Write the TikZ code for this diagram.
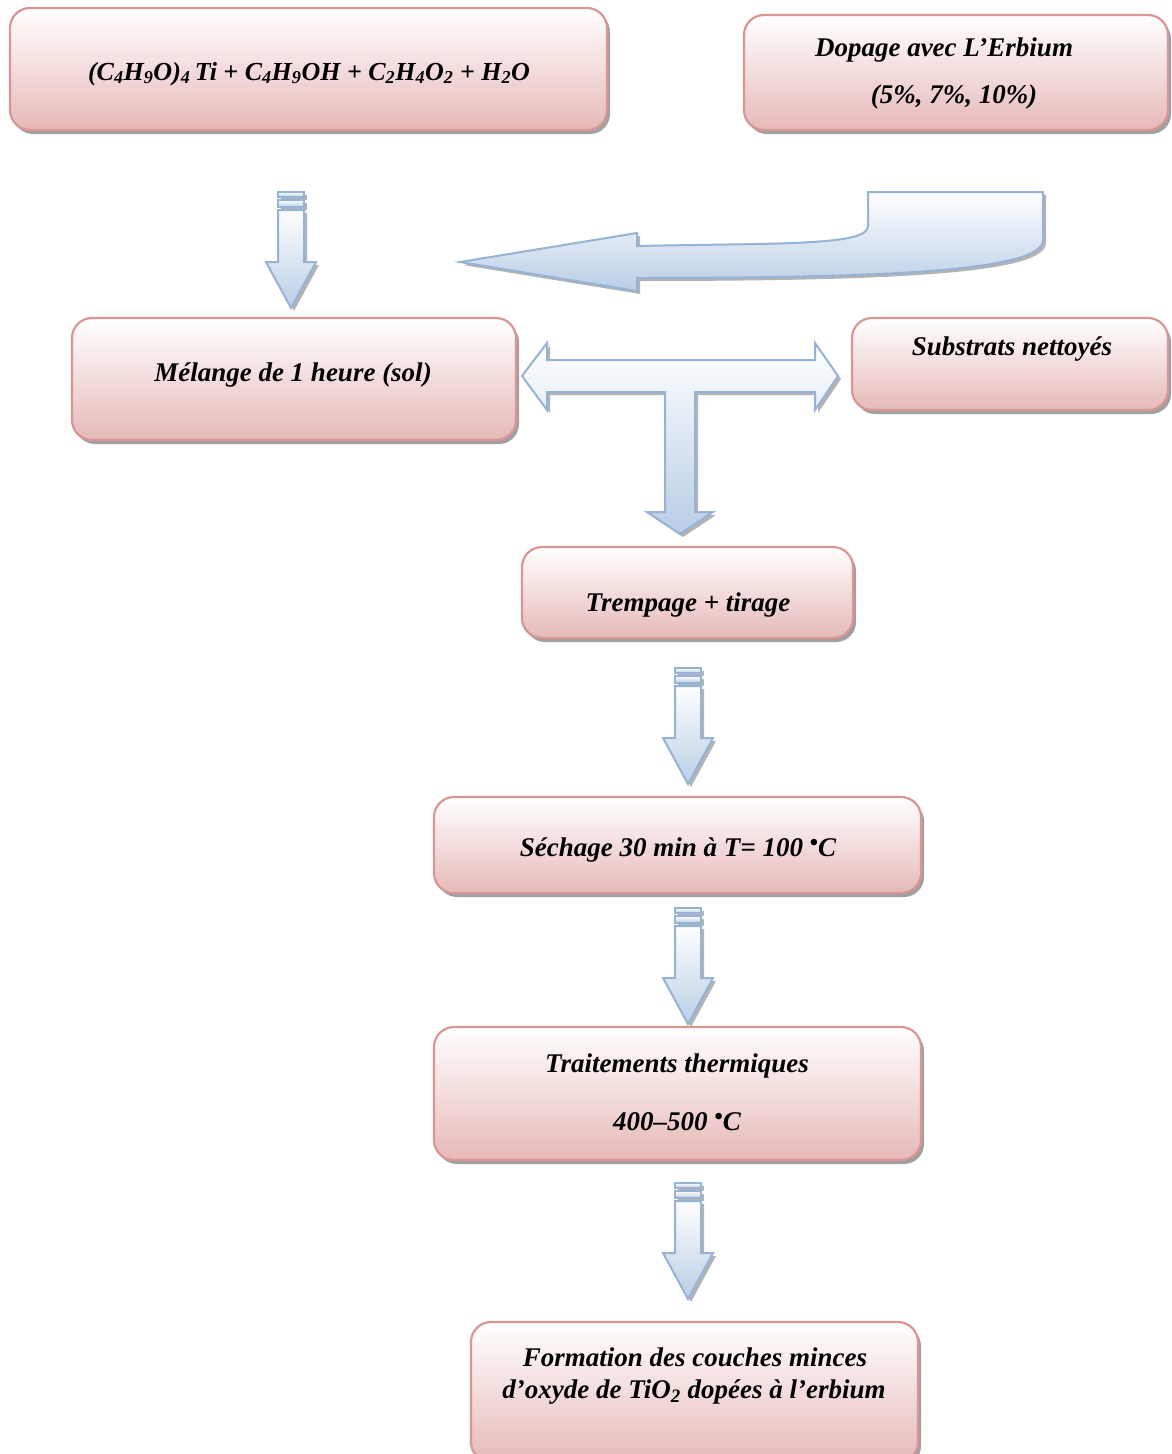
\documentclass[tikz,border=0pt]{standalone}
\usepackage{fontspec}
\setmainfont{Liberation Serif}
\usetikzlibrary{shadows,calc}

\definecolor{boxline}{HTML}{D99694}
\definecolor{boxpink}{HTML}{E6B9B8}
\definecolor{arrline}{HTML}{95B3D7}
\definecolor{arrblue}{HTML}{B9CDE5}
\definecolor{shade}{HTML}{A0A0A0}

\tikzset{
  stepbox/.style={rectangle, rounded corners=20pt, draw=boxline, line width=2.2pt,
    top color=white, bottom color=boxpink, inner sep=0pt,
    drop shadow={shadow xshift=3pt, shadow yshift=-4pt, fill=shade, opacity=1}},
  txt/.style={font=\fontsize{27}{33}\selectfont\bfseries\itshape, align=center, inner sep=0pt},
  blockarrow/.style={draw=arrline, line width=2pt, line join=miter,
    top color=white, bottom color=arrblue,
    drop shadow={shadow xshift=3pt, shadow yshift=-3pt, fill=shade!80, opacity=1}},
  downarrow/.pic={
    \path[blockarrow] (-13,0) rectangle (13,5);
    \path[blockarrow] (-13,8) rectangle (13,15);
    \path[blockarrow] (-13,18) -- (13,18) -- (13,70) -- (25,70) -- (0,116)
      -- (-25,70) -- (-13,70) -- cycle;
  }
}
\newcommand{\degmark}{\raisebox{0.22em}{\fontsize{24}{24}\selectfont •}}

\begin{document}
\begin{tikzpicture}[x=1pt, y=-1pt]
  \fill[white] (0,0) rectangle (1171,1454);
  \useasboundingbox (0,0) rectangle (1171,1454);

  % process boxes
  \node[stepbox, minimum width=597pt, minimum height=122pt] (prec) at (308.5,69) {};
  \node[stepbox, minimum width=424pt, minimum height=115pt] (dop)  at (956,72.5) {};
  \node[stepbox, minimum width=444pt, minimum height=122pt] (mel)  at (294,379) {};
  \node[stepbox, minimum width=316pt, minimum height=92pt]  (sub)  at (1010,364) {};
  \node[stepbox, minimum width=331pt, minimum height=91pt]  (tre)  at (687.5,592.5) {};
  \node[stepbox, minimum width=487pt, minimum height=96pt]  (sec)  at (677.5,845) {};
  \node[stepbox, minimum width=487pt, minimum height=133pt] (trt)  at (677.5,1093.5) {};
  \node[stepbox, minimum width=447pt, minimum height=140pt] (form) at (694.5,1392) {};

  % box texts
  \node[txt, font=\fontsize{26}{32}\selectfont\bfseries\itshape] (tprec) at (309,74) {(C\textsubscript{4}H\textsubscript{9}O)\textsubscript{4}\,Ti + C\textsubscript{4}H\textsubscript{9}OH + C\textsubscript{2}H\textsubscript{4}O\textsubscript{2} + H\textsubscript{2}O};
  \node[txt] (tdop1) at (944,50) {Dopage avec L’Erbium};
  \node[txt] (tdop2) at (954,97) {(5\%, 7\%, 10\%)};
  \node[txt] (tmel) at (293,375) {Mélange de 1 heure (sol)};
  \node[txt] (tsub) at (1012,349) {Substrats nettoyés};
  \node[txt] (ttre) at (688,605) {Trempage + tirage};
  \node[txt] (tsec) at (678,850) {Séchage 30 min à T= 100 \degmark C};
  \node[txt] (ttrt1) at (677,1066) {Traitements thermiques};
  \node[txt] (ttrt2) at (677,1122) {400–500 \degmark C};
  \node[txt] (tform1) at (695,1357) {Formation des couches minces};
  \node[txt] (tform2) at (694,1392) {d’oxyde de TiO\textsubscript{2} dopées à l’erbium};

  % straight down arrows
  \pic at (291,192) {downarrow};
  \pic at (688,668) {downarrow};
  \pic at (688,908) {downarrow};
  \pic at (688,1183) {downarrow};

  % curved arrow bringing the dopant in
  \path[blockarrow] (460,262) -- (637,233) -- (637,246)
    .. controls (780,243) and (868,246) .. (868,226) -- (868,192) -- (1043,192)
    -- (1043,240) .. controls (1043,270) and (900,278) .. (637,278)
    -- (637,291) -- cycle;

  % T-shaped arrow joining sol and substrates
  \path[blockarrow] (522,376) -- (547,343) -- (547,360) -- (815,360) -- (815,343)
    -- (838,376) -- (815,410) -- (815,392) -- (695,392) -- (695,512) -- (713,512)
    -- (680,534) -- (647,512) -- (665,512) -- (665,392) -- (547,392) -- (547,410)
    -- cycle;
\end{tikzpicture}
\end{document}
